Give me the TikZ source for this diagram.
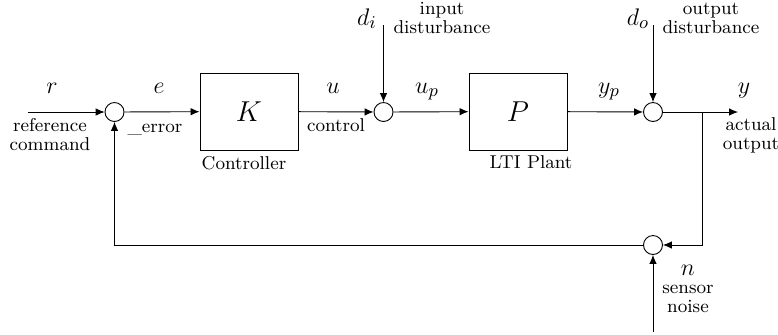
\documentclass[tikz,border=0pt]{standalone}
\usepackage{tikz}
\usetikzlibrary{arrows.meta}

\begin{document}
\begin{tikzpicture}[x=0.5pt,y=-0.5pt,
    sig/.style={draw, line width=0.45pt, -{Latex[length=4.5pt,width=3.8pt]}},
    sumj/.style={draw, circle, line width=0.45pt, minimum size=9.5pt, inner sep=0pt},
    blk/.style={draw, line width=0.45pt, minimum width=49pt, minimum height=38.5pt, inner sep=0pt, font=\fontsize{13.5}{15}\selectfont},
    sym/.style={anchor=base, inner sep=0pt, font=\fontsize{13}{15}\selectfont},
    lbl/.style={anchor=base, inner sep=0pt, align=center, font=\fontsize{9.3}{9.2}\selectfont}]
  \useasboundingbox (0,0) rectangle (778,334);

  % Blocks and summing junctions
  \node[sumj] (s1) at (114.5,112) {};
  \node[blk] (K) at (249,111.5) {$K$};
  \node[sumj] (s2) at (383.5,112) {};
  \node[blk] (P) at (518,111.5) {$P$};
  \node[sumj] (s3) at (653,112) {};
  \node[sumj] (s4) at (653,245) {};

  % Free ends
  \coordinate (rin) at (28,112);
  \coordinate (din) at (383.5,25);
  \coordinate (dout) at (653,25);
  \coordinate (br) at (702,112);
  \coordinate (yout) at (738,112);
  \coordinate (nin) at (653,332);

  % Signals
  \draw[sig] (rin) -- (s1);
  \draw[sig] (s1) -- (K);
  \draw[sig] (K) -- (s2);
  \draw[sig] (din) -- (s2);
  \draw[sig] (s2) -- (P);
  \draw[sig] (P) -- (s3);
  \draw[sig] (dout) -- (s3);
  \draw[sig] (s3) -- (yout);
  \draw[sig] (br) |- (s4);
  \draw[sig] (nin) -- (s4);
  \draw[sig] (s4) -| (s1);

  % Symbols
  \node[sym] (rlab) at (52,93) {$r$};
  \node[sym] (elab) at (159,93) {$e$};
  \node[sym] (ulab) at (333,93) {$u$};
  \node[sym] (uplab) at (427,93) {$u_p$};
  \node[sym] (yplab) at (609,93) {$y_p$};
  \node[sym] (ylab) at (744,93) {$y$};
  \node[sym] (dilab) at (367,25) {$d_i$};
  \node[sym] (dolab) at (638,25) {$d_o$};
  \node[sym] (nlab) at (688,275) {$n$};

  % Descriptions (base = last line)
  \node[lbl] (reflab) at (50,150) {reference\\command};
  \node[lbl] (errlab) at (155,132) {\_error};
  \node[lbl] (ctllab) at (244,169) {Controller};
  \node[lbl] (conlab) at (336,131) {control};
  \node[lbl] (inlab) at (442,33) {input\\disturbance};
  \node[lbl] (plantlab) at (531,168) {LTI Plant};
  \node[lbl] (outlab) at (711,33) {output\\disturbance};
  \node[lbl] (actlab) at (751,149) {actual\\output};
  \node[lbl] (senslab) at (688,312) {sensor\\noise};
\end{tikzpicture}
\end{document}
